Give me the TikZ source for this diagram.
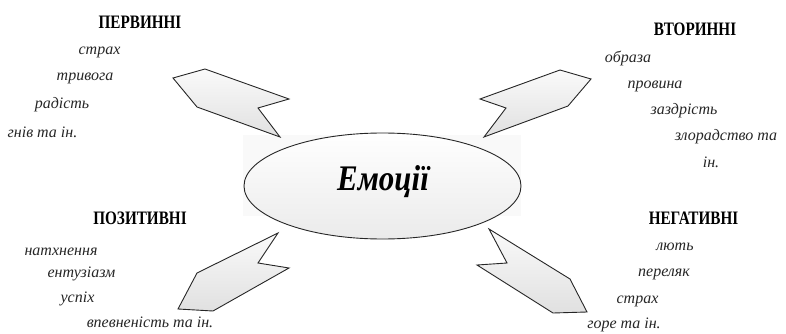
\documentclass[tikz,border=0pt]{standalone}
\usepackage{fontspec}
\setmainfont{Liberation Serif}
\newfontfamily\hdfont{Liberation Serif}[FakeStretch=0.8]
\newfontfamily\emfont{Liberation Serif}[FakeStretch=0.86]
\begin{document}
\begin{tikzpicture}[x=1pt,y=-1pt,
  hdr/.style={font=\hdfont\bfseries\fontsize{19}{19}\selectfont, anchor=base, inner sep=0pt, text=black},
  itm/.style={font=\itshape\fontsize{16}{16}\selectfont, anchor=base, inner sep=0pt, text=black!85},
  arrowshape/.style={draw=black!85, line width=0.9pt, line join=miter, top color=gray!4, bottom color=gray!24}
]
\useasboundingbox (0,0) rectangle (786,334);
% faint backdrop of the ellipse
\fill[gray!5] (243,135) rectangle (521,216);
\fill[gray!3] (287,153) rectangle (463,210);
% central ellipse
\draw[black!85, line width=0.9pt, top color=white, bottom color=gray!16] (382.5,186) ellipse [x radius=138.5, y radius=53];
\node[font=\emfont\bfseries\itshape\fontsize{36}{36}\selectfont, anchor=base, inner sep=0pt] (em) at (383,190) {Емоції};
% arrows
\draw[arrowshape] (173,78) -- (205,69) -- (289,99) -- (258,108) -- (280,137) -- (197,107) -- cycle;
\draw[arrowshape] (480,99) -- (560,70) -- (591,79) -- (568,106) -- (484,137) -- (506,108) -- cycle;
\draw[arrowshape] (278,233) -- (258,263) -- (289,268) -- (213,311) -- (178,309) -- (197,273) -- cycle;
\draw[arrowshape] (489,229) -- (507,263) -- (477,265) -- (553,313) -- (587,312) -- (570,279) -- cycle;
% top-left group
\node[hdr] (h1) at (140,29) {ПЕРВИННІ};
\node[itm] (a1) at (99.5,55) {страх};
\node[itm] (a2) at (85,81) {тривога};
\node[itm] (a3) at (62,109) {радість};
\node[itm] (a4) at (42.5,137) {гнів та ін.};
% top-right group
\node[hdr] (h2) at (695,36) {ВТОРИННІ};
\node[itm] (b1) at (628,63) {образа};
\node[itm] (b2) at (655,89) {провина};
\node[itm] (b3) at (684,114) {заздрість};
\node[itm] (b4) at (726,140) {злорадство та};
\node[itm] (b5) at (711,167) {ін.};
% bottom-left group
\node[hdr] (h3) at (140,224) {ПОЗИТИВНІ};
\node[itm] (c1) at (61,255) {натхнення};
\node[itm] (c2) at (81.5,277) {ентузіазм};
\node[itm] (c3) at (77.5,302) {успіх};
\node[itm] (c4) at (150,327) {впевненість та ін.};
% bottom-right group
\node[hdr] (h4) at (693.5,224) {НЕГАТИВНІ};
\node[itm] (d1) at (675,250) {лють};
\node[itm] (d2) at (664,276) {переляк};
\node[itm] (d3) at (637.5,303) {страх};
\node[itm] (d4) at (624,328) {горе та ін.};
\end{tikzpicture}
\end{document}
